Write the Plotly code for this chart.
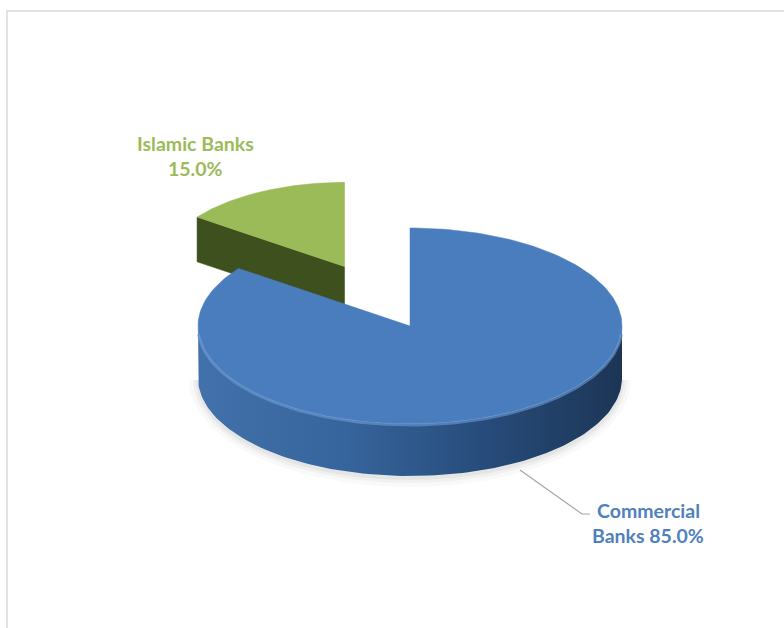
import numpy as np
import plotly.graph_objects as go

# ---- data ----
categories = ["Commercial Banks", "Islamic Banks"]
values = [85.0, 15.0]
label_line1 = ["Commercial", "Islamic Banks"]
label_line2_prefix = ["Banks ", ""]
top_colors = ["#4a7dbd", "#9bbb59"]
cut_colors = ["#2c5486", "#3e501e"]
pulls = [0.0, 0.68]
persp = [1.0, 0.86]

# ---- geometry (pixel-like axes) ----
W, H = 784, 628
CX, CY = 410, 326
RX, RY = 212, 98
DEPTH = 52

total = sum(values)
fig = go.Figure()


def rim(theta, cx, cy, s, dz=0.0):
    t = np.radians(theta)
    return cx + s * RX * np.sin(t), cy - s * RY * np.cos(t) + dz


# soft shadow under the front of the pie (lower half only)
for k, a in [(9, 0.025), (5, 0.035), (2, 0.045)]:
    th = np.linspace(90, 270, 121)
    t = np.radians(th)
    by = CY + DEPTH + 2
    xs = CX + (RX + k) * np.sin(t)
    ys = by - (RY + k) * np.cos(t)
    fig.add_trace(go.Scatter(x=np.append(xs, xs[0]), y=np.append(ys, ys[0]),
                             fill="toself", mode="lines",
                             line=dict(width=0), fillcolor=f"rgba(0,0,0,{a})",
                             hoverinfo="skip", showlegend=False))

# slice angles (clockwise from 12 o'clock)
slices = []
start = 0.0
for i, v in enumerate(values):
    span = v / total * 360.0
    a, b = start, start + span
    mid = (a + b) / 2
    s = persp[i]
    ox = pulls[i] * RX * np.sin(np.radians(mid))
    oy = -pulls[i] * RY * np.cos(np.radians(mid))
    slices.append(dict(i=i, a=a, b=b, mid=mid, cx=CX + ox, cy=CY + oy, s=s))
    start = b

# back-to-front
slices.sort(key=lambda d: -np.cos(np.radians(d["mid"])))

for d in slices:
    i, a, b, cx, cy, s = d["i"], d["a"], d["b"], d["cx"], d["cy"], d["s"]
    dep = DEPTH * s
    # radial cut faces
    for edge, nrm in [(a, a - 90), (b, b + 90)]:
        if np.cos(np.radians(nrm)) < -1e-6:
            ex, ey = rim(edge, cx, cy, s)
            xs = [cx, ex, ex, cx, cx]
            ys = [cy, ey, ey + dep, cy + dep, cy]
            fig.add_trace(go.Scatter(x=xs, y=ys, fill="toself", mode="lines",
                                     line=dict(width=0.5, color=cut_colors[i]),
                                     fillcolor=cut_colors[i],
                                     hoverinfo="skip", showlegend=False))
    # outer rim (front part)
    lo, hi = max(a, 90.0), min(b, 270.0)
    if hi > lo:
        th = np.linspace(lo, hi, 120)
        x1, y1 = rim(th, cx, cy, s)
        x2, y2 = rim(th[::-1], cx, cy, s, dep)
        xs = np.concatenate([x1, x2, x1[:1]])
        ys = np.concatenate([y1, y2, y1[:1]])
        if i == 0:
            fig.add_trace(go.Scatter(
                x=xs, y=ys, fill="toself", mode="lines",
                line=dict(width=0),
                fillgradient=dict(type="horizontal",
                                  colorscale=[[0, "#4271ab"], [0.35, "#36649c"],
                                              [0.7, "#264a78"], [1, "#1c3556"]]),
                hoverinfo="skip", showlegend=False))
        else:
            fig.add_trace(go.Scatter(x=xs, y=ys, fill="toself", mode="lines",
                                     line=dict(width=0), fillcolor=cut_colors[i],
                                     hoverinfo="skip", showlegend=False))
    # top face
    th = np.linspace(a, b, 200)
    ax, ay = rim(th, cx, cy, s)
    xs = np.concatenate([[cx], ax, [cx]])
    ys = np.concatenate([[cy], ay, [cy]])
    fig.add_trace(go.Scatter(x=xs, y=ys, fill="toself", mode="lines",
                             line=dict(width=0.5, color=top_colors[i]),
                             fillcolor=top_colors[i], name=categories[i],
                             hoverinfo="name", showlegend=False))
    if hi > lo:
        th = np.linspace(lo + 4, hi - 4, 120)
        bx, by = rim(th, cx, cy, s, 1.0)
        fig.add_trace(go.Scatter(x=bx, y=by, mode="lines",
                                 line=dict(width=3, color="rgba(110,155,210,0.6)"),
                                 hoverinfo="skip", showlegend=False))

# ---- labels ----
label_font = "Lato, 'Open Sans', sans-serif"
pct = [f"{v / total * 100:.1f}%" for v in values]
lab_pos = {0: (648, 510, 535), 1: (195, 143, 168)}
lab_col = {0: "#4f81bd", 1: "#9bbb59"}
for i in range(len(values)):
    x, y1, y2 = lab_pos[i]
    line2 = label_line2_prefix[i] + pct[i]
    for txt, yy in [(label_line1[i], y1), (line2, y2)]:
        fig.add_annotation(x=x, y=yy, text=f"<b>{txt}</b>", showarrow=False,
                           xref="x", yref="y", xanchor="center", yanchor="middle",
                           font=dict(family=label_font, size=19.5, color=lab_col[i]))

# leader line for the commercial label
fig.add_shape(type="path", path="M 520 470 L 582 514 L 590 514",
              line=dict(color="#a6a6a6", width=1.2), xref="x", yref="y")

# chart border
fig.add_shape(type="rect", x0=7, y0=11, x1=W + 10, y1=H + 10,
              line=dict(color="#d9d9d9", width=1.5), xref="x", yref="y",
              layer="below")

fig.update_layout(
    width=W, height=H,
    margin=dict(l=0, r=0, t=0, b=0),
    paper_bgcolor="white", plot_bgcolor="white",
    xaxis=dict(range=[0, W], visible=False, fixedrange=True),
    yaxis=dict(range=[H, 0], visible=False, fixedrange=True),
    showlegend=False,
)

fig.write_html("out.html")
